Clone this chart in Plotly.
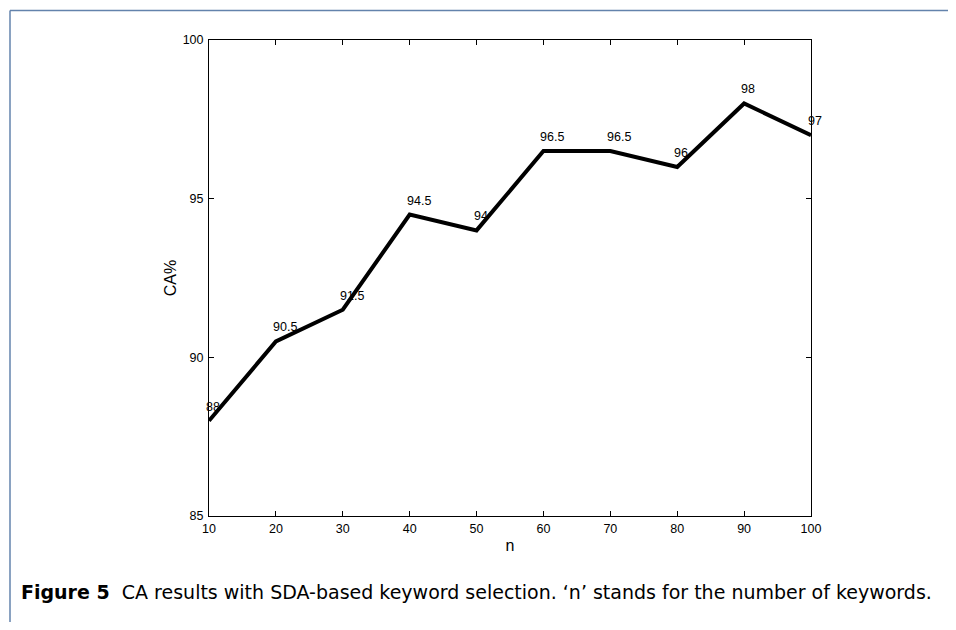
import plotly.graph_objects as go

n_values = [10, 20, 30, 40, 50, 60, 70, 80, 90, 100]
ca_values = [88, 90.5, 91.5, 94.5, 94, 96.5, 96.5, 96, 98, 97]
point_labels = ["88", "90.5", "91.5", "94.5", "94", "96.5", "96.5", "96", "98", "97"]
x_ticks = [10, 20, 30, 40, 50, 60, 70, 80, 90, 100]
y_ticks = [85, 90, 95, 100]
caption = "<b>Figure 5</b>  CA results with SDA-based keyword selection. ‘n’ stands for the number of keywords."

OFF = 8  # browser body margin
W, H = 956 - 2 * OFF, 630 - 2 * OFF
L, R, T, B = 209 - OFF, 811 - OFF, 40 - OFF, 516 - OFF

fig = go.Figure()
fig.add_trace(go.Scatter(x=n_values, y=ca_values, mode="lines",
                         line=dict(color="black", width=4), showlegend=False,
                         hoverinfo="skip", cliponaxis=False))

for xv, yv, lab in zip(n_values, ca_values, point_labels):
    fig.add_annotation(x=xv, y=yv, text=lab, showarrow=False,
                       xanchor="left", yanchor="middle", xshift=-5, yshift=14,
                       font=dict(family="Liberation Sans, Arial", size=12.5, color="black"))

axis_common = dict(showline=True, linecolor="black", linewidth=1, mirror="ticks",
                   ticks="inside", ticklen=5, tickcolor="black", tickwidth=1,
                   showgrid=False, zeroline=False,
                   tickfont=dict(family="Liberation Sans, Arial", size=12.5, color="black"))

fig.update_layout(
    width=W, height=H,
    margin=dict(l=L, r=W - R, t=T, b=H - B, autoexpand=False),
    paper_bgcolor="white", plot_bgcolor="white",
    xaxis=dict(range=[10, 100], tickvals=x_ticks, ticklabelstandoff=1,
               title=dict(text="n", font=dict(family="Liberation Sans, Arial", size=16, color="black"), standoff=4),
               **axis_common),
    yaxis=dict(range=[85, 100], tickvals=y_ticks, ticklabelstandoff=2,
               title=dict(text="CA%", font=dict(family="Liberation Sans, Arial", size=16, color="black"), standoff=2),
               **axis_common),
)

def px(p):
    return (p - OFF - L) / (R - L)

def py(p):
    return (B - (p - OFF)) / (B - T)

# figure frame (top and left rules)
frame_color = "#6383ac"
fig.add_shape(type="line", xref="paper", yref="paper",
              x0=px(10), x1=px(960), y0=py(10.5), y1=py(10.5),
              line=dict(color=frame_color, width=1.5))
fig.add_shape(type="line", xref="paper", yref="paper",
              x0=px(10), x1=px(10), y0=py(10.5), y1=py(640),
              line=dict(color=frame_color, width=1.5))

fig.add_annotation(xref="paper", yref="paper", x=px(19), y=py(592),
                   xanchor="left", yanchor="middle", showarrow=False,
                   text=caption,
                   font=dict(family="DejaVu Sans, sans-serif", size=19, color="black"))

fig.write_html("out.html")
